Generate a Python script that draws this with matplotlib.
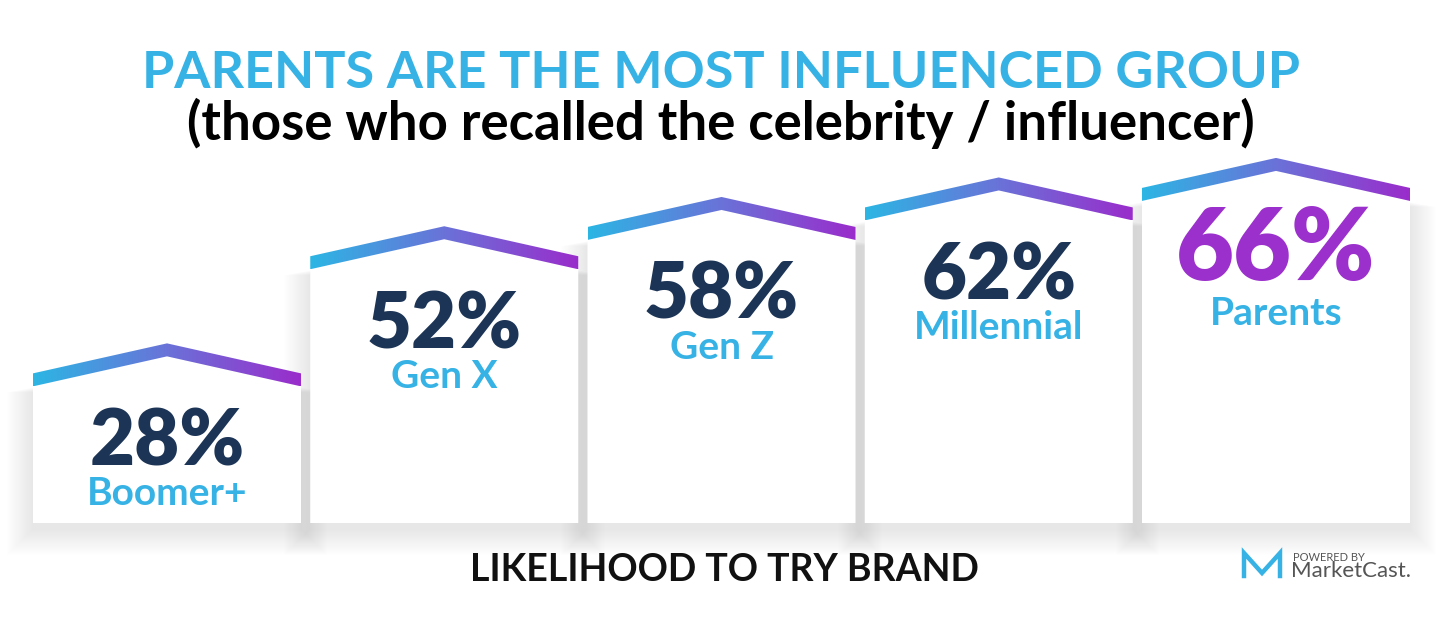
import numpy as np
import matplotlib.pyplot as plt
from matplotlib.patches import Polygon
from matplotlib.colors import LinearSegmentedColormap
from matplotlib.lines import Line2D

# data
groups = ["Boomer+", "Gen X", "Gen Z", "Millennial", "Parents"]
values = [28, 52, 58, 62, 66]
value_labels = ["28%", "52%", "58%", "62%", "66%"]

title = "PARENTS ARE THE MOST INFLUENCED GROUP"
subtitle = "(those who recalled the celebrity / influencer)"
xlabel = "LIKELIHOOD TO TRY BRAND"

BLUE = "#36b2e5"
NAVY = "#1c3455"
PURPLE = "#9b30cc"
roof_cmap = LinearSegmentedColormap.from_list("roof", ["#2cb6e4", "#6a72d8", "#9a2ccb"])

FONT = "Lato"

W, H = 1442, 625
fig = plt.figure(figsize=(W / 100, H / 100), dpi=100)
fig.patch.set_facecolor("white")

# full-figure axes; cards stand on y=0 at 523px, 4.88 px per point
BASE = 523
PPU = 4.88
ax = fig.add_axes([0, 0, 1, 1])
ax.axis("off")

px_x = 1 / 277.25   # one pixel in x data units
px_y = 1 / PPU      # one pixel in y data units
bar_w = 268 * px_x
rise = 30 * px_y    # roof peak above eave
band = 13 * px_y    # roof stroke thickness (vertical)

for i, (g, v, lab) in enumerate(zip(groups, values, value_labels)):
    x0, x1 = i - bar_w / 2, i + bar_w / 2

    # soft shadow
    for k in range(24):
        d = (k + 1) * 1.1
        sx, sy = d * px_x, d * px_y
        off = 6 * px_y
        shadow = Polygon([(x0 - sx, -sy - off), (x1 + sx, -sy - off),
                          (x1 + sx, v - off), (i, v + rise - off), (x0 - sx, v - off)],
                         closed=True, facecolor="#66708a", edgecolor="none",
                         alpha=0.0045, zorder=1)
        ax.add_patch(shadow)

    # white card body
    body = Polygon([(x0, 0), (x1, 0), (x1, v + band / 2), (i, v + rise + band / 2),
                    (x0, v + band / 2)], closed=True, facecolor="white",
                   edgecolor="none", zorder=2)
    ax.add_patch(body)

    # gradient roof stroke
    roof = Polygon([(x0, v), (i, v + rise), (x1, v), (x1, v + band),
                    (i, v + rise + band), (x0, v + band)], closed=True,
                   facecolor="none", edgecolor="none", zorder=3)
    ax.add_patch(roof)
    im = ax.imshow(np.linspace(0, 1, 256).reshape(1, -1), cmap=roof_cmap,
                   extent=[x0, x1, v, v + rise + band], aspect="auto",
                   interpolation="bilinear", zorder=3)
    im.set_clip_path(roof)

    # value and group name
    big = i == len(values) - 1
    ax.text(i, v - 79 * px_y, lab, ha="center", va="baseline",
            fontsize=72 if big else 56, fontweight="heavy", family=FONT,
            color=PURPLE if big else NAVY, zorder=4)
    ax.text(i, v - (124 if big else 119) * px_y, g, ha="center", va="baseline",
            fontsize=28, fontweight="bold", family=FONT, color=BLUE, zorder=4)

ax.set_xlim(-167 * px_x, (W - 167) * px_x)
ax.set_ylim(-(H - BASE) * px_y, BASE * px_y)

# titles
fig.text(0.5, 1 - 88 / H, title, ha="center", va="baseline", fontsize=37.5,
         fontweight="bold", family=FONT, color=BLUE)
fig.text(0.5, 1 - 140 / H, subtitle, ha="center", va="baseline", fontsize=38,
         fontweight="bold", family=FONT, color="black")
fig.text(724 / W, 1 - 581 / H, xlabel, ha="center", va="baseline", fontsize=27,
         fontweight="bold", family=FONT, color="#111111")

# logo
def fx(x):
    return x / W

def fy(y):
    return 1 - y / H

icon_x = [1244, 1244, 1262, 1280, 1280]
icon_y = [576, 553, 573, 553, 576]
fig.add_artist(Line2D([fx(x) for x in icon_x], [fy(y) for y in icon_y],
                      color=BLUE, linewidth=3.2, solid_joinstyle="miter"))
fig.text(fx(1293), fy(561), "POWERED BY", ha="left", va="baseline", fontsize=8,
         family=FONT, color="#555555")
fig.text(fx(1291), fy(577), "MarketCast.", ha="left", va="baseline", fontsize=16,
         family=FONT, color="#555555")

fig.savefig("out.png", dpi=100, facecolor="white")
